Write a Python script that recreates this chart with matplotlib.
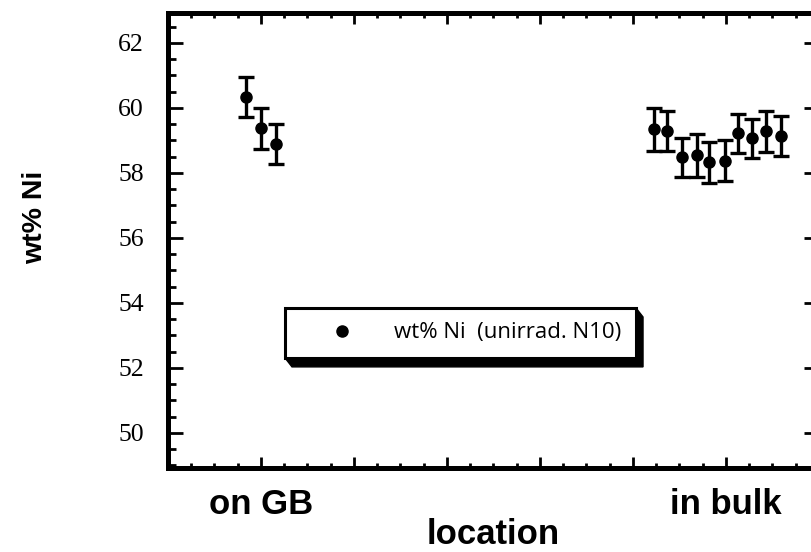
import matplotlib
matplotlib.use("Agg")
import matplotlib.pyplot as plt
from matplotlib.lines import Line2D
from matplotlib.patches import Polygon
from matplotlib.transforms import IdentityTransform
from matplotlib.ticker import MultipleLocator, FixedLocator

# Measurement positions along the sample (arbitrary location units)
gb_pos = [0.84, 1.00, 1.16]
gb_ni = [60.34, 59.37, 58.89]
gb_err = [0.62, 0.63, 0.62]

bulk_pos = [5.23, 5.37, 5.53, 5.69, 5.82, 5.99, 6.13, 6.28, 6.43, 6.59]
bulk_ni = [59.34, 59.29, 58.48, 58.54, 58.32, 58.38, 59.22, 59.06, 59.28, 59.14]
bulk_err = [0.66, 0.62, 0.60, 0.66, 0.63, 0.63, 0.60, 0.60, 0.63, 0.62]

loc_ticks = [1, 6]
loc_labels = ["on GB", "in bulk"]
series_label = "wt% Ni  (unirrad. N10)"

W, H, DPI = 812, 552, 100
fig = plt.figure(figsize=(W / DPI, H / DPI), dpi=DPI)
fig.patch.set_facecolor("white")

# axes box in pixels: left 168, right 819 (runs past the canvas edge), top 13, bottom 468
left, right, top, bottom = 168, 819, 13, 468
ax = fig.add_axes([left / W, 1 - bottom / H, (right - left) / W, (bottom - top) / H])

ax.set_xlim(0, 7)
ax.set_ylim(48.92, 62.92)

err_kw = dict(fmt="o", color="black", ms=8, elinewidth=2.4, capsize=5.5,
              capthick=2.4, zorder=3)
ax.errorbar(gb_pos, gb_ni, yerr=gb_err, **err_kw)
ax.errorbar(bulk_pos, bulk_ni, yerr=bulk_err, **err_kw)

# axis frame and ticks
for s in ax.spines.values():
    s.set_linewidth(3.6)
    s.set_color("black")

ax.xaxis.set_major_locator(FixedLocator(range(0, 8)))
ax.xaxis.set_minor_locator(MultipleLocator(0.25))
ax.yaxis.set_major_locator(MultipleLocator(2))
ax.yaxis.set_minor_locator(MultipleLocator(0.5))

ax.tick_params(axis="x", which="both", direction="in", top=True, bottom=True,
               width=2.0, labelsize=25, pad=14.5)
ax.tick_params(axis="x", which="major", length=8)
ax.tick_params(axis="x", which="minor", length=3.5)
ax.tick_params(axis="y", which="both", direction="in", left=True, right=True,
               width=2.0, labelsize=18.5, pad=17.5)
ax.tick_params(axis="y", which="major", length=11)
ax.tick_params(axis="y", which="minor", length=5.5)

ax.set_xticks([0, 1, 2, 3, 4, 5, 6, 7])
ax.set_xticklabels(["", loc_labels[0], "", "", "", "", loc_labels[1], ""],
                   fontfamily="Liberation Sans", fontweight="bold")
ax.set_yticks([50, 52, 54, 56, 58, 60, 62])
for t in ax.get_yticklabels():
    t.set_fontfamily("Liberation Serif")

ax.set_xlabel("location", fontfamily="Liberation Sans", fontweight="bold",
              fontsize=25, labelpad=-2)
ax.set_ylabel("wt% Ni", fontfamily="Liberation Sans", fontweight="bold",
              fontsize=20.5, labelpad=0)
ax.yaxis.set_label_coords(-0.184, 0.55)

# legend with a solid offset drop shadow
handle = Line2D([], [], marker="o", ls="none", color="black", ms=8)
leg = ax.legend([handle], [series_label], loc="upper left",
                bbox_to_anchor=(285 / W, 1 - 308 / H), bbox_transform=fig.transFigure,
                frameon=True, fancybox=False, framealpha=1, edgecolor="black",
                prop=dict(family="Open Sans", size=16), borderpad=0.65,
                handlelength=3.8, handletextpad=0.47, borderaxespad=0)
leg.get_frame().set_linewidth(2.2)
leg.set_zorder(6)

fig.canvas.draw()
bb = leg.get_frame().get_window_extent()
ox, oy = 7, 9
shadow = Polygon([(bb.x0, bb.y0), (bb.x0 + ox, bb.y0 - oy), (bb.x1 + ox, bb.y0 - oy),
                  (bb.x1 + ox, bb.y1 - oy), (bb.x1, bb.y1)], closed=True,
                 facecolor="black", edgecolor="black", transform=IdentityTransform(),
                 zorder=5, clip_on=False)
ax.add_patch(shadow)

fig.savefig("out.png", dpi=DPI)
